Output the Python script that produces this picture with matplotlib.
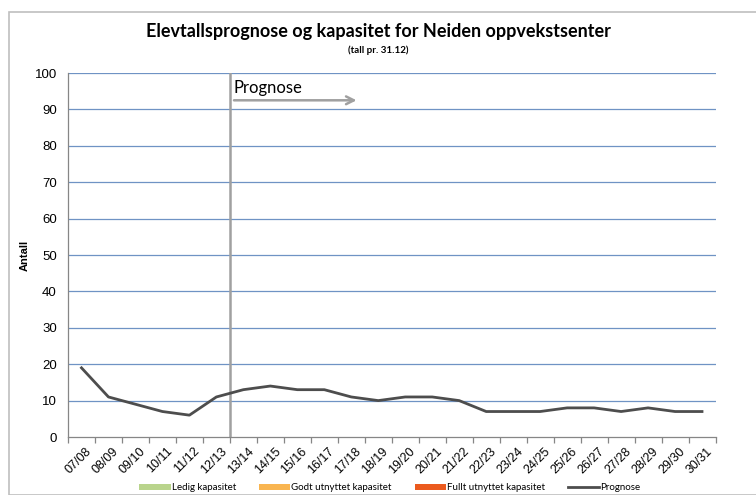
import matplotlib
matplotlib.use("Agg")
import matplotlib.pyplot as plt
from matplotlib.patches import Patch, Rectangle
from matplotlib.lines import Line2D
import numpy as np

categories = ["07/08", "08/09", "09/10", "10/11", "11/12", "12/13", "13/14", "14/15",
              "15/16", "16/17", "17/18", "18/19", "19/20", "20/21", "21/22", "22/23",
              "23/24", "24/25", "25/26", "26/27", "27/28", "28/29", "29/30", "30/31"]
prognose = [19, 11, 9, 7, 6, 11, 13, 14, 13, 13, 11, 10, 11, 11, 10, 7, 7, 7, 8, 8, 7, 8, 7, 7]
yticks = [0, 10, 20, 30, 40, 50, 60, 70, 80, 90, 100]
legend_labels = ["Ledig kapasitet", "Godt utnyttet kapasitet", "Fullt utnyttet kapasitet", "Prognose"]

fig = plt.figure(figsize=(7.56, 4.95), dpi=100)
fig.patches.append(Rectangle((9/756, 0), 1.2, (495-12)/495, transform=fig.transFigure,
                             fill=False, edgecolor="#BFBFBF", linewidth=1.2))
ax = fig.add_axes([68/756, 1-437/495, (715.5-68)/756, (437-73)/495])

n = len(categories)
x = np.arange(n)
ax.set_xlim(-0.5, n - 0.5)
ax.set_ylim(0, 100)
ax.set_yticks(yticks)
ax.set_yticklabels([str(v) for v in yticks], fontfamily="Liberation Sans", fontsize=9.5)
for v in yticks[1:]:
    ax.axhline(v, color="#6F93C4", linewidth=0.9, zorder=1)

ax.set_xticks(np.arange(-0.5, n, 1.0))
ax.set_xticklabels([])
ax.set_xticks(x + 0.15, minor=True)
ax.set_xticklabels(categories, minor=True, rotation=45, ha="right", va="top",
                   rotation_mode="anchor", fontfamily="Liberation Sans", fontsize=9)
ax.tick_params(axis="x", which="major", length=4, color="#868686", width=0.9)
ax.tick_params(axis="x", which="minor", length=0, pad=6)
ax.tick_params(axis="y", length=0, pad=8)

for s in ["top", "right"]:
    ax.spines[s].set_visible(False)
for s in ["left", "bottom"]:
    ax.spines[s].set_color("#868686")
    ax.spines[s].set_linewidth(0.9)

ax.plot(x, prognose, color="#4D4D4D", linewidth=2.0, zorder=3)

# forecast start line
ax.axvline(5.5, color="#A0A0A0", linewidth=1.8, zorder=2)
ax.annotate("", xy=(10.3, 92.5), xytext=(5.55, 92.5),
            arrowprops=dict(arrowstyle="->", color="#A0A0A0", lw=1.8, mutation_scale=14))
ax.text(5.65, 93.8, "Prognose", fontfamily="Lato", fontsize=12, ha="left", va="bottom")

ax.set_ylabel("Antall", fontfamily="Liberation Sans", fontweight="bold", fontsize=8)
ax.yaxis.set_label_coords((30 - 68) / 647, 0.5)

fig.text(0.5, 1-32/495, "Elevtallsprognose og kapasitet for Neiden oppvekstsenter",
         ha="center", va="center", fontfamily="Lato", fontweight="bold", fontsize=13)
fig.text(0.5, 1-50/495, "(tall pr. 31.12)", ha="center", va="center",
         fontfamily="Lato", fontweight="bold", fontsize=7)

handles = [Patch(facecolor="#B9D48C", edgecolor="none"),
           Patch(facecolor="#F9B550", edgecolor="none"),
           Patch(facecolor="#EB5A1E", edgecolor="none"),
           Line2D([0], [0], color="#4D4D4D", linewidth=2.0)]
fig.legend(handles, legend_labels, loc="center", bbox_to_anchor=(390/756, 1-488/495),
           ncol=4, frameon=False, prop={"family": "Lato", "size": 7},
           handlelength=3.2, handleheight=0.6, handletextpad=0.1, columnspacing=2.4)

fig.savefig("out.png", dpi=100)
